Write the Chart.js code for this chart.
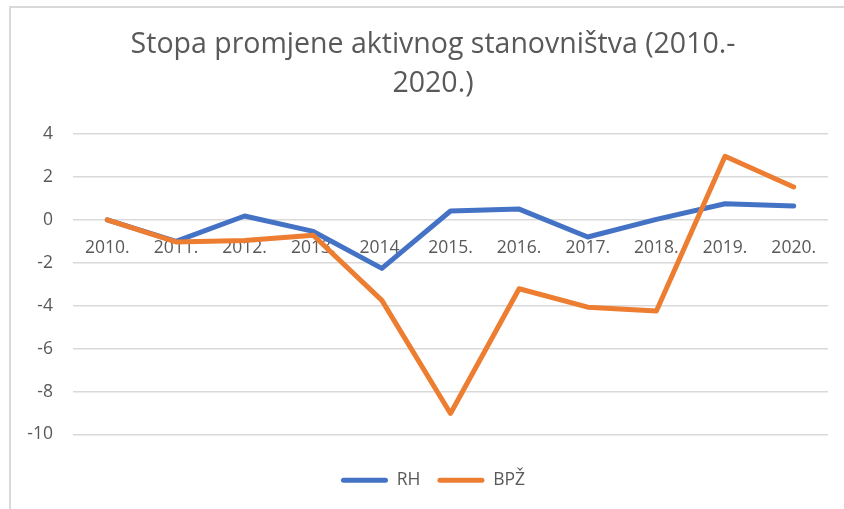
<!DOCTYPE html>
<html>
<head>
<meta charset="utf-8">
<script src="https://cdn.jsdelivr.net/npm/chart.js@4"></script>
<style>
    html, body { margin: 0; padding: 0; background: #fff; overflow: hidden; }
    #frame {
        position: absolute; left: 9px; top: 6px;
        width: 900px; height: 600px;
        border: 2px solid #d9d9d9;
    }
    #chart { position: absolute; left: 11px; top: 8px; }
</style>
</head>
<body>
<div id="frame"></div>
<canvas id="chart" width="844" height="500"></canvas>
<script>
// Data
const years = ['2010.', '2011.', '2012.', '2013.', '2014.', '2015.', '2016.', '2017.', '2018.', '2019.', '2020.'];
const rhValues = [0, -1.0, 0.18, -0.54, -2.26, 0.41, 0.5, -0.8, 0.02, 0.75, 0.64];
const bpzValues = [0, -1.03, -0.96, -0.72, -3.75, -9.02, -3.21, -4.07, -4.25, 2.96, 1.53];
const titleLines = ['Stopa promjene aktivnog stanovništva (2010.-', '2020.)'];

const textColor = '#595959';
const fontFamily = '"Open Sans", sans-serif';

const defaultLabels = Chart.defaults.plugins.legend.labels.generateLabels;

const ctx = document.getElementById('chart').getContext('2d');
new Chart(ctx, {
    type: 'line',
    data: {
        labels: years,
        datasets: [{
            label: 'RH',
            data: rhValues,
            borderColor: '#4472C4',
            backgroundColor: '#4472C4',
            order: 1
        }, {
            label: 'BPŽ',
            data: bpzValues,
            borderColor: '#ED7D31',
            backgroundColor: '#ED7D31',
            order: 0 // orange drawn over blue
        }]
    },
    options: {
        responsive: false,
        animation: false,
        devicePixelRatio: 1,
        layout: { padding: { left: 0, right: 0, top: 0, bottom: 9 } },
        elements: {
            line: { borderWidth: 5, tension: 0, borderJoinStyle: 'round', borderCapStyle: 'round' },
            point: { radius: 0, hoverRadius: 0 }
        },
        plugins: {
            tooltip: { enabled: false },
            title: {
                display: true,
                text: titleLines,
                color: textColor,
                font: { family: fontFamily, size: 28.5, weight: 'normal', lineHeight: 1.368 },
                padding: { top: 17.5, bottom: 30.5 }
            },
            legend: {
                position: 'bottom',
                labels: {
                    color: textColor,
                    font: { family: fontFamily, size: 17.5 },
                    boxWidth: 47,
                    boxHeight: 5,
                    padding: 17,
                    useBorderRadius: true,
                    borderRadius: 2.5,
                    sort: (a, b) => a.datasetIndex - b.datasetIndex,
                    generateLabels: chart => defaultLabels(chart).map(item => {
                        item.fillStyle = item.strokeStyle;
                        item.lineWidth = 0;
                        return item;
                    })
                }
            }
        },
        scales: {
            x: {
                position: { y: 0 },
                offset: true,
                grid: { display: false, drawTicks: false },
                border: { display: false },
                ticks: {
                    color: textColor,
                    font: { family: fontFamily, size: 17.5 },
                    padding: 18,
                    maxRotation: 0,
                    autoSkip: false
                }
            },
            gap: {
                // empty band between plot area and legend
                type: 'category',
                position: 'bottom',
                grid: { display: false, drawTicks: false },
                border: { display: false },
                ticks: { display: false },
                afterFit: scale => { scale.height = 20; }
            },
            gapRight: {
                // empty band right of the plot area
                type: 'linear',
                position: 'right',
                grid: { display: false, drawTicks: false },
                border: { display: false },
                ticks: { display: false },
                afterFit: scale => { scale.width = 27; }
            },
            y: {
                min: -10,
                max: 4,
                grid: { color: '#d9d9d9', lineWidth: 1.5, drawTicks: false },
                border: { display: false },
                ticks: {
                    stepSize: 2,
                    color: textColor,
                    font: { family: fontFamily, size: 17.5 },
                    padding: 20
                },
                afterFit: scale => { scale.width = 62; }
            }
        }
    }
});
</script>
</body>
</html>
